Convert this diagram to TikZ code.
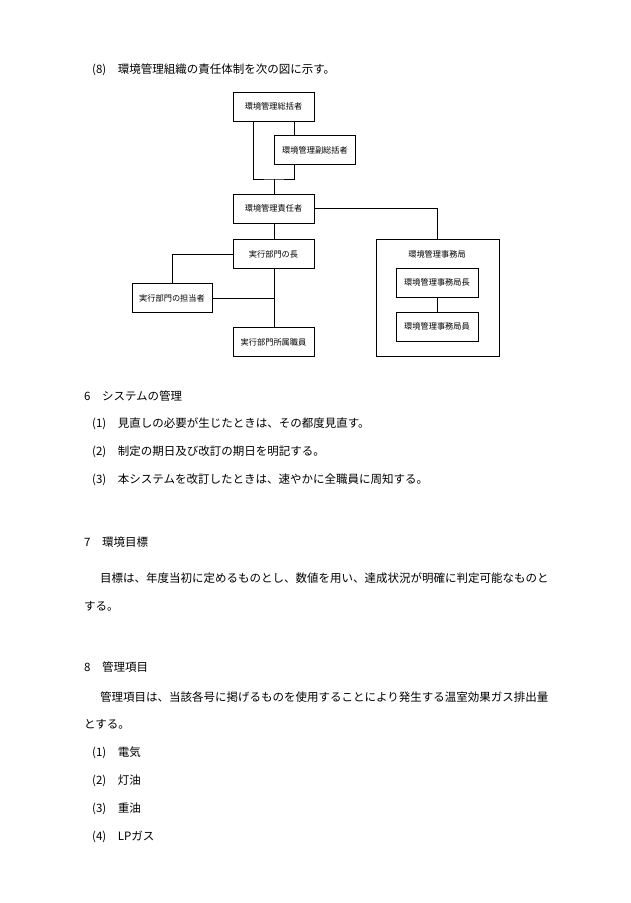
\documentclass[tikz,border=0pt]{standalone}
\usepackage{fontspec}
\setmainfont{Noto Sans CJK JP}
\begin{document}
\begin{tikzpicture}[x=1pt,y=-1pt,
  bx/.style={draw,line width=0.8pt,minimum width=81pt,minimum height=29pt,font=\fontsize{8.2}{9}\selectfont,inner sep=0pt},
  tx/.style={anchor=west,font=\fontsize{11.5}{13}\selectfont,inner sep=0pt},
  ln/.style={line width=0.8pt}]
\useasboundingbox[fill=white] (0,0) rectangle (630,903);
\node[bx] (a) at (273.5,106.5) {環境管理総括者};
\node[bx] (b) at (315,150) {環境管理副総括者};
\node[bx] (c) at (273.5,208.5) {環境管理責任者};
\node[bx] (d) at (273.5,254) {実行部門の長};
\node[bx,minimum width=80pt] (e) at (172,298) {実行部門の担当者};
\node[bx] (f) at (273.5,342) {実行部門所属職員};
\node[draw,line width=0.8pt,minimum width=123pt,minimum height=117pt,inner sep=0pt] (o) at (437.5,297.5) {};
\node[font=\fontsize{8.2}{9}\selectfont] (ot) at (437,254) {環境管理事務局};
\node[bx,minimum width=82pt] (g) at (437,282.5) {環境管理事務局長};
\node[bx,minimum width=82pt] (h) at (437,326.5) {環境管理事務局員};
\coordinate (j) at (274,179);
\draw[ln] (a.south -| 253,0) |- (j) -| (b.south -| 294,0);
\draw[ln] (a.south -| 294,0) -- (b.north -| 294,0);
\draw[ln] (j) -- (c.north -| j);
\draw[ln] (c.east) -| (o.north);
\draw[ln] (c.south -| j) -- (d.north -| j);
\draw[ln] (d.west) -| (e.north);
\draw[ln] (d.south -| j) -- (f.north -| j);
\draw[ln] (e.east) -- (e.east -| j);
\draw[ln] (g) -- (h);
\node[tx] (t0) at (92,70) {(8)\hspace{1em}環境管理組織の責任体制を次の図に示す。};
\node[tx] (t1) at (84,396) {6\hspace{1em}システムの管理};
\node[tx] (t2) at (92,424) {(1)\hspace{1em}見直しの必要が生じたときは、その都度見直す。};
\node[tx] (t3) at (92,452) {(2)\hspace{1em}制定の期日及び改訂の期日を明記する。};
\node[tx] (t4) at (92,480) {(3)\hspace{1em}本システムを改訂したときは、速やかに全職員に周知する。};
\node[tx] (t5) at (84,542) {7\hspace{1em}環境目標};
\node[tx] (t6) at (100,578) {目標は、年度当初に定めるものとし、数値を用い、達成状況が明確に判定可能なものと};
\node[tx] (t7) at (84,606) {する。};
\node[tx] (t8) at (84,667) {8\hspace{1em}管理項目};
\node[tx] (t9) at (100,697) {管理項目は、当該各号に掲げるものを使用することにより発生する温室効果ガス排出量};
\node[tx] (t10) at (84,724) {とする。};
\node[tx] (t11) at (92,753) {(1)\hspace{1em}電気};
\node[tx] (t12) at (92,781) {(2)\hspace{1em}灯油};
\node[tx] (t13) at (92,809) {(3)\hspace{1em}重油};
\node[tx] (t14) at (92,837) {(4)\hspace{1em}LPガス};
\end{tikzpicture}
\end{document}
